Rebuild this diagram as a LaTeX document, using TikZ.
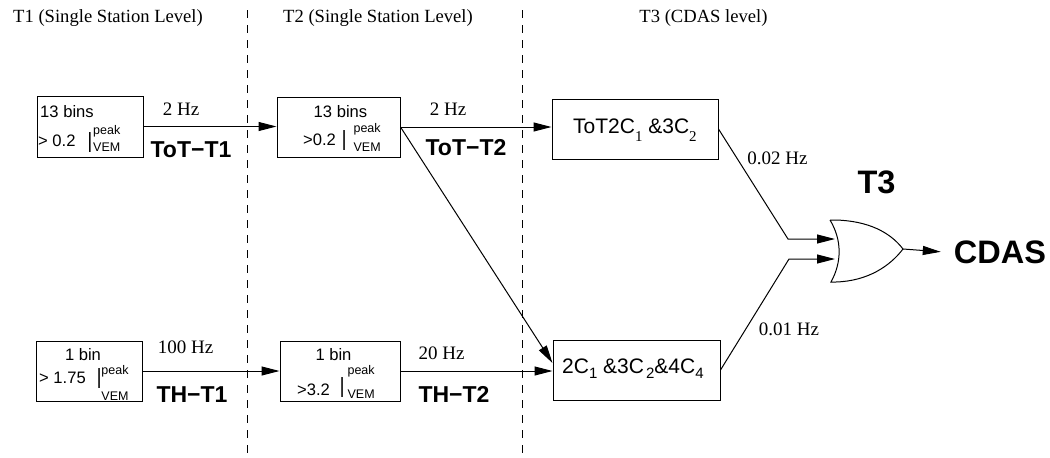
\documentclass[tikz,border=0pt]{standalone}
\usepackage{fontspec}
\usepackage{graphicx}
\setmainfont{Liberation Sans}
\newfontfamily\serif{Liberation Serif}
\usetikzlibrary{arrows.meta}
\newcommand{\Ipk}[4]{\raisebox{#1}{\scalebox{1}[1.75]{I}}\kern#2\rlap{\raisebox{#3}{\fontsize{12.5}{12.5}\selectfont peak}}\raisebox{#4}{\fontsize{12.5}{12.5}\selectfont VEM}}
\tikzset{
  box/.style={draw, line width=1pt, inner sep=0pt},
  arr/.style={line width=1pt, -{Triangle[length=18pt,width=9pt]}},
  dashline/.style={line width=1pt, dash pattern=on 8pt off 7pt},
  head/.style={font=\serif\fontsize{18.6}{20}\selectfont, anchor=base, inner sep=0pt},
  rate/.style={font=\serif\fontsize{19}{20}\selectfont, anchor=base, inner sep=0pt},
  blab/.style={font=\bfseries\fontsize{23}{24}\selectfont, anchor=base, inner sep=0pt},
  big/.style={font=\bfseries\fontsize{32.5}{34}\selectfont, anchor=base, inner sep=0pt},
  btxt/.style={font=\fontsize{16.6}{18}\selectfont, anchor=base, inner sep=0pt},
  ctxt/.style={font=\fontsize{21}{23}\selectfont, anchor=base west, inner sep=0pt},
}
\begin{document}
\begin{tikzpicture}[x=1pt,y=-1pt]
\useasboundingbox (0,0) rectangle (1050,458);
% dashed separators
\draw[dashline] (247,10) -- (247,458);
\draw[dashline] (522,10) -- (522,458);
% headers
\node[head] (h1) at (108,22) {T1 (Single Station Level)};
\node[head] (h2) at (378,22) {T2 (Single Station Level)};
\node[head] (h3) at (703.5,22) {T3 (CDAS level)};
% boxes
\node[box, minimum width=106pt, minimum height=61pt] (b1) at (90,126.5) {};
\node[box, minimum width=123pt, minimum height=60pt] (b2) at (338.5,127) {};
\node[box, minimum width=106pt, minimum height=60pt] (b3) at (89,371) {};
\node[box, minimum width=120pt, minimum height=60pt] (b4) at (340,371) {};
\node[box, minimum width=166pt, minimum height=60pt] (tc) at (635,129) {};
\node[box, minimum width=167pt, minimum height=60pt] (cc) at (636.5,370) {};
% box texts
\node[btxt] (b1a) at (67,117) {13 bins};
\node[btxt, anchor=base west] (b1b) at (38,146) {> 0.2\kern12pt\Ipk{-6pt}{1pt}{12pt}{-5pt}};
\node[btxt] (b2a) at (340.5,117) {13 bins};
\node[btxt, anchor=base west] (b2b) at (303,145) {>0.2\kern6pt\Ipk{-5pt}{7pt}{13pt}{-6pt}};
\node[btxt] (b3a) at (83,360) {1 bin};
\node[btxt, anchor=base west] (b3b) at (39,383) {> 1.75\kern11pt\Ipk{-5pt}{0pt}{9pt}{-17pt}};
\node[btxt] (b4a) at (333.5,360) {1 bin};
\node[btxt, anchor=base west] (b4b) at (297,395) {>3.2\kern10pt\Ipk{-2pt}{3pt}{21pt}{-3pt}};
\node[ctxt] (tct) at (573,133) {ToT2C\raisebox{-8pt}{\serif\fontsize{15}{15}\selectfont 1} \&3C\raisebox{-8pt}{\serif\fontsize{15}{15}\selectfont 2}};
\node[ctxt] (cct) at (562,373) {2C\raisebox{-5pt}{\fontsize{15}{15}\selectfont 1} \&3C\kern2pt\raisebox{-5pt}{\fontsize{15}{15}\selectfont 2}\&4C\raisebox{-5pt}{\fontsize{15}{15}\selectfont 4}};
% rates and labels
\node[rate] (r1) at (181,115) {2 Hz};
\node[blab] (l1) at (191,157) {ToT−T1};
\node[rate] (r2) at (448,115) {2 Hz};
\node[blab] (l2) at (466,155) {ToT−T2};
\node[rate] (r3) at (185.5,353) {100 Hz};
\node[blab] (l3) at (192,402) {TH−T1};
\node[rate] (r4) at (441.5,359) {20 Hz};
\node[blab] (l4) at (454,402) {TH−T2};
\node[rate] (r5) at (777.5,164) {0.02 Hz};
\node[rate] (r6) at (789,335) {0.01 Hz};
\node[big] (t3) at (876.5,193) {T3};
\node[big, inner xsep=13pt] (cdas) at (1000,263) {CDAS};
% OR gate
\coordinate (gin1) at (835,239);
\coordinate (gin2) at (835,259);
\coordinate (gout) at (903,249);
\coordinate (k1) at (788,239);
\coordinate (k2) at (789,259);
\draw[line width=1pt] (830,220) -- (836,220) .. controls (868,221) and (890,232) .. (gout)
  .. controls (890,266) and (868,281) .. (836,282) -- (831,282)
  .. controls (842,262) and (842,240) .. (830,220);
% connectors
\draw[arr] (b1.east) -- (b1.east -| b2.west);
\draw[arr] (b3.east) -- (b3.east -| b4.west);
\draw[arr] (b2.east) -- (b2.east -| tc.west);
\draw[arr] (b2.east) -- ([yshift=7pt]cc.west);
\draw[arr] (b4.east) -- (b4.east -| cc.west);
\draw[arr] (tc.east) -- (k1) -- (gin1);
\draw[arr] (cc.east) -- (k2) -- (gin2);
\draw[arr] (gout) -- (cdas.west);
\end{tikzpicture}
\end{document}
